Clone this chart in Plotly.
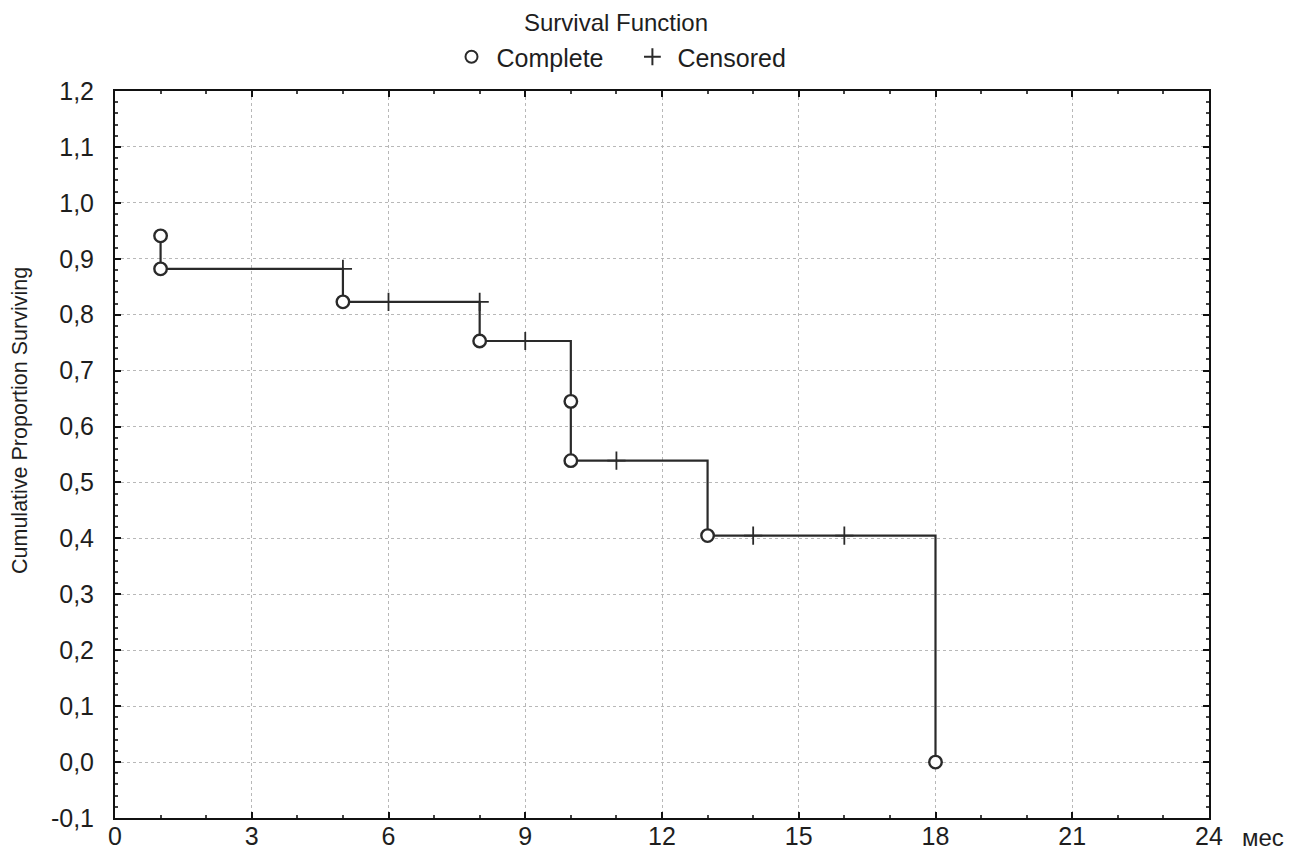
import plotly.graph_objects as go

# Kaplan-Meier data
complete_t = [1, 1, 5, 8, 10, 10, 13, 18]
complete_s = [0.941, 0.882, 0.823, 0.753, 0.645, 0.539, 0.405, 0.0]
censored_t = [5, 6, 8, 9, 11, 14, 16]
censored_s = [0.882, 0.823, 0.823, 0.753, 0.539, 0.405, 0.405]
x_ticks = [0, 3, 6, 9, 12, 15, 18, 21, 24]
y_ticks = [-0.1, 0.0, 0.1, 0.2, 0.3, 0.4, 0.5, 0.6, 0.7, 0.8, 0.9, 1.0, 1.1, 1.2]
y_ticktext = [f"{v:.1f}".replace(".", ",") for v in y_ticks]

FONT = "Liberation Sans, Arial, sans-serif"
LINE = "#2a2a2a"
TXT = "#1e1e1e"
NB = "\u00a0"

# page has an 8px body margin; plot area target: x 115..1209, y 91..818
W, H = 1287, 851
ML, MR, MT, MB = 107, 86, 83, 41
PW = W - ML - MR
PH = H - MT - MB

fig = go.Figure()
fig.add_trace(go.Scatter(
    x=complete_t, y=complete_s, mode="lines", line=dict(color=LINE, width=2.2, shape="hv"),
    showlegend=False, hoverinfo="skip"))
fig.add_trace(go.Scatter(
    x=censored_t, y=censored_s, mode="markers", name="Censored",
    marker=dict(symbol="cross-thin-open", size=13, line=dict(color=LINE, width=1.8), color=LINE)))
fig.add_trace(go.Scatter(
    x=complete_t, y=complete_s, mode="markers", name="Complete" + NB * 2 + "\u2009",
    marker=dict(symbol="circle", size=12.5, color="white", line=dict(color=LINE, width=2.4))))

fig.update_layout(
    width=W, height=H,
    paper_bgcolor="white", plot_bgcolor="white",
    margin=dict(l=ML, r=MR, t=MT, b=MB),
    font=dict(family=FONT, color=TXT, size=25),
    title=dict(text="Survival Function", x=(616 - 8) / W, xanchor="center", y=1 - 15 / H,
               yanchor="middle", pad=dict(t=0, b=0), font=dict(family=FONT, size=24, color=TXT)),
    legend=dict(orientation="h", x=(619 - 115) / PW, xanchor="center", y=1 + (MT - 49) / PH,
                yanchor="middle", traceorder="reversed", font=dict(family=FONT, size=25, color=TXT),
                itemsizing="constant", itemwidth=40, bgcolor="rgba(0,0,0,0)"),
    showlegend=True,
)

fig.update_xaxes(
    range=[0, 24], tickvals=x_ticks, ticktext=[str(v) for v in x_ticks],
    showline=True, linecolor="#111", linewidth=2, mirror="ticks",
    ticks="inside", ticklen=6, tickwidth=1.5, tickcolor="#111",
    minor=dict(dtick=1, ticks="inside", ticklen=3, tickcolor="#444", showgrid=False),
    showgrid=True, gridcolor="#b8b8b8", griddash="dot", gridwidth=1.3,
    zeroline=False, tickfont=dict(size=25, family=FONT, color=TXT), automargin=False,
    ticklabelstandoff=-5,
)
fig.update_yaxes(
    range=[-0.1, 1.2], tickvals=y_ticks, ticktext=y_ticktext,
    showline=True, linecolor="#111", linewidth=2, mirror="ticks",
    ticks="inside", ticklen=6, tickwidth=1.5, tickcolor="#111",
    minor=dict(dtick=0.02, tick0=0, ticks="inside", ticklen=3, tickcolor="#444", showgrid=False),
    showgrid=True, gridcolor="#b8b8b8", griddash="dot", gridwidth=1.3,
    zeroline=False, tickfont=dict(size=25, family=FONT, color=TXT), automargin=False,
    ticklabelstandoff=14,
)

# y-axis title (placed as in the reference, slightly above the plot centre)
fig.add_annotation(text="Cumulative Proportion Surviving", xref="paper", yref="paper",
                   x=0, y=(818 - 421) / PH, xshift=-95, xanchor="center", yanchor="middle",
                   textangle=-90, showarrow=False, font=dict(family=FONT, size=21.5, color=TXT))

fig.add_annotation(text="мес", xref="paper", yref="paper", x=1.0, y=0, xshift=54, yshift=-19,
                   xanchor="center", yanchor="middle",
                   showarrow=False, font=dict(family=FONT, size=24, color=TXT))

fig.write_html("out.html")
